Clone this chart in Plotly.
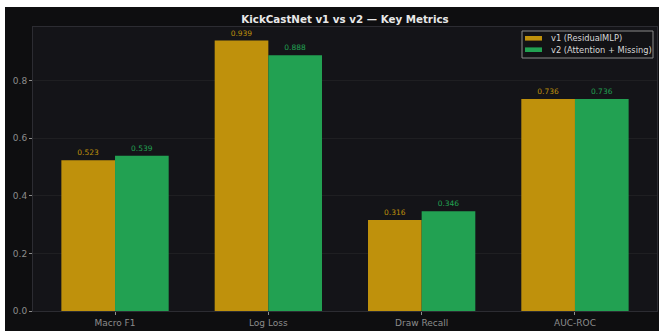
import plotly.graph_objects as go

categories = ["Macro F1", "Log Loss", "Draw Recall", "AUC-ROC"]
v1_name = "v1 (ResidualMLP)"
v2_name = "v2 (Attention + Missing)"
v1_values = [0.523, 0.939, 0.316, 0.736]
v2_values = [0.539, 0.888, 0.346, 0.736]
y_ticks = [0.0, 0.2, 0.4, 0.6, 0.8]

GOLD = "#bf910c"
GREEN = "#22a152"
OX, OY = 5, 7                    # page offset of the dark figure
W, H = 659 - OX, 331 - OY
ML, MR, MT, MB = 33 - OX, 2, 27 - OY, 20
pw, ph = W - ML - MR, H - MT - MB

series = [(v1_name, v1_values, GOLD), (v2_name, v2_values, GREEN)]

fig = go.Figure()
for name, vals, col in series:
    fig.add_trace(go.Bar(
        x=categories, y=vals, name=name,
        marker=dict(color=col, line=dict(width=0)),
        text=[f"{v:.3f}" for v in vals], textposition="outside",
        textfont=dict(family="DejaVu Sans", size=7.5, color=col),
        cliponaxis=False,
    ))

def px2x(p):
    return (p - OX - ML) / pw

def py2y(p):
    return (OY + H - MB - p) / ph

# compact matplotlib-style legend box
shapes = [dict(type="rect", xref="paper", yref="paper",
               x0=px2x(522), x1=px2x(653), y0=py2y(58), y1=py2y(31),
               fillcolor="#121215", line=dict(color="#8a8a8a", width=1), layer="above")]
annotations = []
for i, (name, _, col) in enumerate(series):
    cy = 38.3 + i * 11.4
    shapes.append(dict(type="rect", xref="paper", yref="paper",
                       x0=px2x(525), x1=px2x(542), y0=py2y(cy + 2.3), y1=py2y(cy - 2.3),
                       fillcolor=col, line=dict(width=0), layer="above"))
    annotations.append(dict(xref="paper", yref="paper", x=px2x(548.5), y=py2y(cy),
                            xanchor="left", yanchor="middle", showarrow=False, text=name,
                            font=dict(family="DejaVu Sans", size=8.3, color="#d8d8d8")))

fig.update_layout(
    width=W, height=H,
    margin=dict(l=ML, r=MR, t=MT, b=MB, pad=0),
    paper_bgcolor="#0e0e10", plot_bgcolor="#141418",
    barmode="group", bargap=0.3, bargroupgap=0,
    title=dict(text="<b>KickCastNet v1 vs v2 — Key Metrics</b>",
               x=(345 - OX) / W, xanchor="center", y=1 - (19 - OY) / H, yanchor="middle",
               font=dict(family="DejaVu Sans", size=10.3, color="#e8e8e8")),
    font=dict(family="DejaVu Sans", size=9, color="#8c8c8c"),
    showlegend=False,
    shapes=shapes,
    annotations=annotations,
    xaxis=dict(range=[-0.535, 3.535], showgrid=False, ticks="outside", ticklen=3,
               tickcolor="#8c8c8c", showline=True, linecolor="#2c2c32", mirror=True,
               tickfont=dict(size=9, color="#8c8c8c"), zeroline=False),
    yaxis=dict(range=[0, 0.986], tickvals=y_ticks, ticktext=[f"{t:.1f}" for t in y_ticks],
               showgrid=True, gridcolor="rgba(60,60,60,0.3)", gridwidth=1,
               ticks="outside", ticklen=3, tickcolor="#8c8c8c",
               showline=True, linecolor="#2c2c32", mirror=True, zeroline=False,
               layer="above traces", tickfont=dict(size=9, color="#8c8c8c")),
)

fig.write_html(
    "out.html",
    post_script=f"document.body.style.margin='{OY}px 0 0 {OX}px';"
                "document.body.style.background='white';"
                "document.body.style.overflow='hidden';",
)
